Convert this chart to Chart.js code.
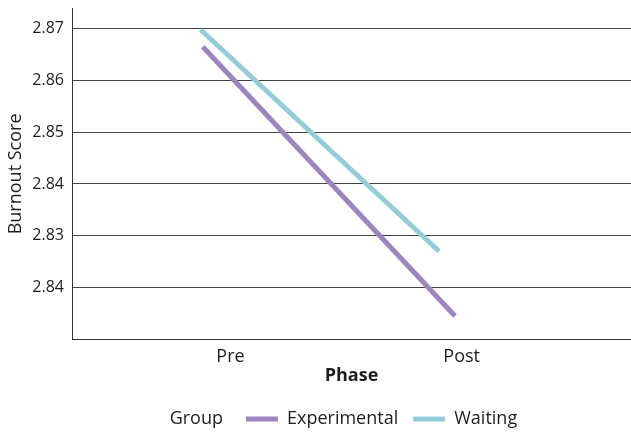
<!DOCTYPE html>
<html>
<head>
<meta charset="utf-8">
<script src="https://cdn.jsdelivr.net/npm/chart.js@4/dist/chart.umd.min.js"></script>
<style>
  html, body { margin: 0; padding: 0; background: #fff; }
  #wrap { width: 631px; height: 432px; }
</style>
</head>
<body>
<div id="wrap"><canvas id="chart"></canvas></div>
<script>
// Burnout score, Pre vs Post, for the two groups.
// The x axis is linear so each line can start/end where the original puts it (Pre = 0, Post = 1).
const phases = ['Pre', 'Post'];
const phaseTicks = [0, 1];
const experimentalX = [-0.12, 0.971];
const experimentalY = [2.8665, 2.8145];
const waitingX = [-0.129, 0.902];
const waitingY = [2.8698, 2.8270];
const seriesNames = ['Experimental', 'Waiting'];
const seriesColors = ['#9c86c0', '#94cdd9'];

// Tick values and the labels printed next to them (the original repeats 2.84 at the bottom).
const yTickValues = [2.82, 2.83, 2.84, 2.85, 2.86, 2.87];
const yTickLabels = ['2.84', '2.83', '2.84', '2.85', '2.86', '2.87'];
const legendTitle = 'Group';

const FONT = "'Open Sans', sans-serif";
const TEXT = '#1e1e1e';

// Legend title drawn inline, to the left of the first item (Chart.js puts titles above).
// The items are nudged so the whole "Group + items" row sits where the original has it.
const groupLabel = {
    id: 'groupLabel',
    afterUpdate(chart) {
        const lg = chart.legend;
        if (!lg || !lg.legendHitBoxes || !lg.legendHitBoxes.length) {
            return;
        }
        const dx = 246 - lg.legendHitBoxes[0].left;
        lg.left += dx;
        lg.right += dx;
        lg.legendHitBoxes.forEach((hb) => { hb.left += dx; });
    },
    afterDraw(chart) {
        const hb = chart.legend.legendHitBoxes[0];
        const ctx = chart.ctx;
        ctx.save();
        ctx.font = `18px ${FONT}`;
        ctx.fillStyle = TEXT;
        ctx.textAlign = 'right';
        ctx.textBaseline = 'middle';
        ctx.fillText(legendTitle, hb.left - 23, hb.top + hb.height / 2);
        ctx.restore();
    },
};

const toPoints = (xs, ys) => xs.map((x, i) => ({ x, y: ys[i] }));

new Chart(document.getElementById('chart'), {
    type: 'line',
    data: {
        datasets: [
            { label: seriesNames[0], data: toPoints(experimentalX, experimentalY), borderColor: seriesColors[0], backgroundColor: seriesColors[0], borderWidth: 5, pointRadius: 0 },
            { label: seriesNames[1], data: toPoints(waitingX, waitingY), borderColor: seriesColors[1], backgroundColor: seriesColors[1], borderWidth: 5, pointRadius: 0 },
        ],
    },
    options: {
        responsive: true,
        maintainAspectRatio: false,
        animation: false,
        layout: { padding: { top: 0, right: 0, left: 0, bottom: -6 } },
        plugins: {
            tooltip: { enabled: false },
            legend: {
                position: 'bottom',
                labels: {
                    color: TEXT,
                    font: { family: FONT, size: 18 },
                    boxWidth: 32,
                    boxHeight: 5,
                    padding: 15,
                    generateLabels: (chart) => Chart.defaults.plugins.legend.labels.generateLabels(chart)
                        .map((item) => ({ ...item, lineWidth: 0 })),
                },
            },
        },
        scales: {
            x: {
                type: 'linear',
                min: -0.6856,
                max: 1.7323,
                afterBuildTicks: (axis) => { axis.ticks = phaseTicks.map((v) => ({ value: v })); },
                ticks: {
                    color: TEXT,
                    font: { family: FONT, size: 18 },
                    padding: 6,
                    maxRotation: 0,
                    callback: (v) => phases[phaseTicks.indexOf(v)] ?? '',
                },
                grid: { drawOnChartArea: false, drawTicks: false },
                border: { color: '#333', width: 1 },
                title: { display: true, text: 'Phase', color: TEXT, font: { family: FONT, size: 18, weight: 'bold' }, padding: { top: -8, bottom: 8 } },
            },
            y: {
                min: 2.8099,
                max: 2.874,
                afterBuildTicks: (axis) => { axis.ticks = yTickValues.map((v) => ({ value: v })); },
                afterFit: (axis) => {
                    axis.width = 72;
                    axis.paddingTop = 8;
                    axis.paddingBottom = 0;
                },
                ticks: {
                    color: TEXT,
                    font: { family: FONT, size: 16 },
                    padding: 8,
                    callback: (v) => yTickLabels[yTickValues.findIndex((t) => Math.abs(t - v) < 1e-6)] ?? '',
                },
                grid: { color: '#444', lineWidth: 1, drawTicks: false },
                border: { color: '#333', width: 1 },
                title: { display: true, text: 'Burnout Score', color: TEXT, font: { family: FONT, size: 18 }, padding: { top: 5, bottom: 4 } },
            },
        },
    },
    plugins: [groupLabel],
});
</script>
</body>
</html>
